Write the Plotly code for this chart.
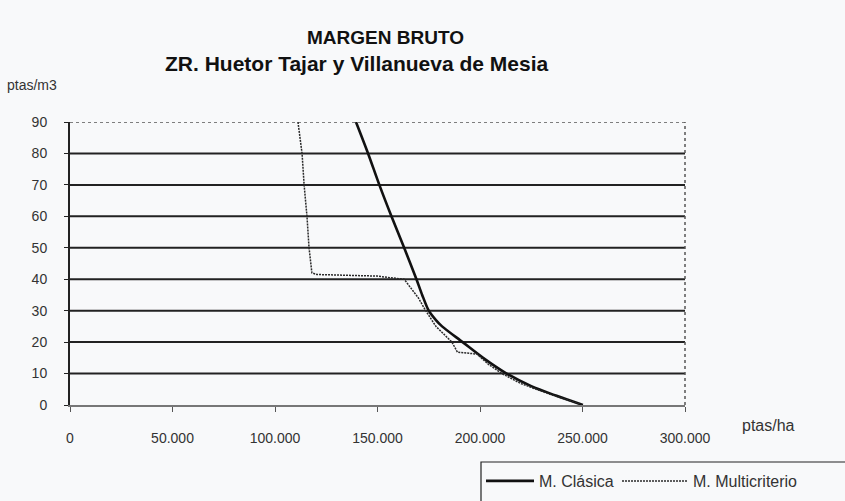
import plotly.graph_objects as go

# ---- data ----
clasica_x = [139500, 145400, 150900, 156800, 163000, 169000, 171800, 175000,
             178500, 181500, 191500, 201500, 213000, 225000, 237000, 250200]
clasica_y = [90, 80, 70, 60, 50, 40, 35, 30, 27, 25, 20, 15, 10, 6, 3, 0]

multi_x = [111200, 113200, 114200, 115600, 116600, 118000, 120500, 150000,
           156000, 163000, 166500, 170000, 173500, 178500, 186300, 189000,
           198500, 204000, 210700, 220000, 235000, 249000]
multi_y = [90, 80, 70, 60, 50, 42, 41.5, 41, 40.5, 40, 37, 34, 30, 25, 20,
           16.8, 16.2, 13, 10, 6.8, 3.2, 0.3]

x_ticks = [0, 50000, 100000, 150000, 200000, 250000, 300000]
x_tick_labels = ["0", "50.000", "100.000", "150.000", "200.000", "250.000", "300.000"]
y_ticks = [0, 10, 20, 30, 40, 50, 60, 70, 80, 90]

series_names = ["M. Clásica", "M. Multicriterio"]
title_lines = ["MARGEN BRUTO", "ZR. Huetor Tajar y Villanueva de Mesia"]
y_unit = "ptas/m3"
x_unit = "ptas/ha"

FONT = "Liberation Sans, Arial, sans-serif"
BG = "#f8f9fa"
L, R, T, B = 70, 685, 122, 405  # plot area in pixels
PW, PH = R - L, B - T


def px(xp):
    return (xp - L) / PW


def py(yp):
    return (B - yp) / PH


fig = go.Figure()
fig.add_trace(go.Scatter(x=clasica_x, y=clasica_y, mode="lines", name=series_names[0],
                         line=dict(color="#111111", width=2.6, shape="spline", smoothing=0.8),
                         legend="legend"))
fig.add_trace(go.Scatter(x=multi_x, y=multi_y, mode="lines", name=series_names[1],
                         line=dict(color="#2a2a2a", width=1.5, dash="2px,1px"),
                         legend="legend2"))

shapes = []
for v in y_ticks[1:-1]:
    shapes.append(dict(type="line", xref="paper", x0=0, x1=1, yref="y", y0=v, y1=v,
                       line=dict(color="#222222", width=2), layer="below"))
shapes.append(dict(type="line", xref="paper", x0=0, x1=1, yref="y", y0=y_ticks[-1], y1=y_ticks[-1],
                   line=dict(color="#555555", width=1.5, dash="dot"), layer="below"))
shapes.append(dict(type="line", xref="paper", x0=1, x1=1, yref="paper", y0=0, y1=1,
                   line=dict(color="#555555", width=1.5, dash="dot"), layer="below"))
# legend frame (runs off the right/bottom edge like the reference)
shapes.append(dict(type="rect", xref="paper", yref="paper", x0=px(481), x1=px(860),
                   y0=py(510), y1=py(462), line=dict(color="#222222", width=1.2),
                   fillcolor="rgba(0,0,0,0)"))

annotations = [
    dict(text="<b>%s</b>" % title_lines[0], xref="paper", yref="paper",
         x=px(385), y=py(37), xanchor="center", yanchor="middle",
         showarrow=False, font=dict(family=FONT, size=19, color="#111111")),
    dict(text="<b>%s</b>" % title_lines[1], xref="paper", yref="paper",
         x=px(357), y=py(63), xanchor="center", yanchor="middle",
         showarrow=False, font=dict(family=FONT, size=21, color="#111111")),
    dict(text=y_unit, xref="paper", yref="paper", x=px(5), y=py(85),
         xanchor="left", yanchor="middle", showarrow=False,
         font=dict(family=FONT, size=14, color="#333333")),
    dict(text=x_unit, xref="paper", yref="paper", x=px(740), y=py(425),
         xanchor="left", yanchor="middle", showarrow=False,
         font=dict(family=FONT, size=16, color="#333333")),
]

legend_font = dict(family=FONT, size=16, color="#333333")

fig.update_layout(
    width=845, height=501,
    margin=dict(l=L, r=845 - R, t=T, b=501 - B, autoexpand=False),
    paper_bgcolor=BG, plot_bgcolor=BG,
    font=dict(family=FONT, size=14, color="#333333"),
    shapes=shapes, annotations=annotations,
    showlegend=True,
    legend=dict(orientation="h", xanchor="left", yanchor="top", borderwidth=0,
                bgcolor="rgba(0,0,0,0)", font=legend_font, itemwidth=48,
                x=px(481), y=py(464)),
    legend2=dict(orientation="h", xanchor="left", yanchor="top", borderwidth=0,
                 bgcolor="rgba(0,0,0,0)", font=legend_font, itemwidth=66,
                 x=px(617), y=py(464)),
    xaxis=dict(range=[0, 300000], tickvals=x_ticks, ticktext=x_tick_labels,
               showgrid=False, zeroline=False, showline=True, linecolor="#777777", linewidth=2,
               ticks="outside", ticklen=5, tickcolor="#555555", tickwidth=1,
               ticklabelstandoff=14, fixedrange=True),
    yaxis=dict(range=[0, 90], tickvals=y_ticks, showgrid=False, zeroline=False,
               showline=True, linecolor="#222222", linewidth=2,
               ticks="outside", ticklen=4, tickcolor="#222222", tickwidth=1,
               ticklabelstandoff=14, fixedrange=True),
)

fig.write_html("out.html", config={"displayModeBar": False},
               post_script="document.body.style.margin='0';"
                           "document.body.style.background='%s';" % BG)
